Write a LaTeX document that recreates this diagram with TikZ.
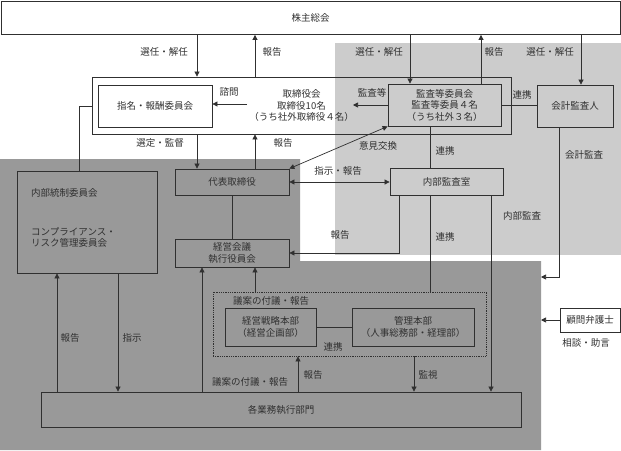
\documentclass[tikz,border=0pt]{standalone}
\usepackage{fontspec}
\setmainfont{Noto Sans CJK JP}
\usetikzlibrary{arrows.meta}
\definecolor{lgray}{HTML}{CCCCCC}
\definecolor{dgray}{HTML}{999999}
\definecolor{ink}{HTML}{303030}

\begin{document}
\begin{tikzpicture}[x=1pt, y=-1pt,
  font=\fontsize{9.5}{11.5}\selectfont,
  box/.style={draw=ink, line width=0.8pt, inner sep=0pt, align=center, text=ink},
  lbl/.style={inner sep=0pt, text=ink},
  ln/.style={draw=ink, line width=0.7pt},
  arr/.style={ln, -{Triangle[length=5pt,width=5pt]}},
  arrtwo/.style={ln, {Triangle[length=5pt,width=5pt]}-{Triangle[length=5pt,width=5pt]}}]
  \useasboundingbox (0,0) rectangle (621,450);

  % Fill the two shaded areas
  \fill[lgray] (335,43) rectangle (621,255);
  \fill[dgray] (0,159) -- (300,159) -- (300,261) -- (541,261) -- (541,450) -- (0,450) -- cycle;

  % Draw the boxes
  \node[box, minimum width=619pt, minimum height=33pt] (soukai) at (310.5,18) {株主総会};
  \node[box, minimum width=419pt, minimum height=57pt] (board) at (301.5,105.5)
    {取締役会\\取締役10名\\（うち社外取締役４名）};
  \node[box, fill=white, minimum width=114pt, minimum height=42pt] (nomi) at (155,106) {指名・報酬委員会};
  \node[box, minimum width=113pt, minimum height=42pt] (kansa) at (444.5,105)
    {監査等委員会\\監査等委員４名\\（うち社外３名）};
  \node[box, minimum width=76pt, minimum height=42pt] (kaikei) at (575,106) {会計監査人};
  \node[box, minimum width=114pt, minimum height=26pt] (daihyo) at (232,182) {代表取締役};
  \node[box, minimum width=113pt, minimum height=27pt] (naibu) at (446.5,181.5) {内部監査室};
  \node[box, minimum width=114pt, minimum height=28pt] (keiei) at (232,253) {経営会議\\執行役員会};
  \node[box, minimum width=140pt, minimum height=102pt] (tousei) at (87,222) {};
  \node[lbl, anchor=west] (tousei1) at (31,193) {内部統制委員会};
  \node[lbl, anchor=west, align=left] (tousei2) at (31,237.5) {コンプライアンス・\\リスク管理委員会};
  \node[box, densely dotted, minimum width=273pt, minimum height=64pt] (grp) at (349.5,324) {};
  \node[lbl] (grplbl) at (271,301) {議案の付議・報告};
  \node[box, minimum width=91pt, minimum height=38pt] (senryaku) at (270.5,327) {経営戦略本部\\（経営企画部）};
  \node[box, minimum width=122pt, minimum height=38pt] (kanri) at (413,327) {管理本部\\（人事総務部・経理部）};
  \node[box, minimum width=480pt, minimum height=35pt] (gyomu) at (281,409.5) {各業務執行部門};
  \node[box, fill=white, minimum width=60pt, minimum height=24pt] (komon) at (590,320) {顧問弁護士};

  % Connector columns and free ends
  \coordinate (xa) at (197,0);
  \coordinate (xb) at (255,0);
  \coordinate (xc) at (410,0);
  \coordinate (xd) at (481,0);
  \coordinate (xe) at (581,0);
  \coordinate (xf) at (79,0);
  \coordinate (xg) at (430,0);
  \coordinate (xh) at (559,0);
  \coordinate (xi) at (399,0);
  \coordinate (xj) at (491,0);
  \coordinate (xk) at (57,0);
  \coordinate (xl) at (118,0);
  \coordinate (xm) at (202,0);
  \coordinate (xn) at (298,0);
  \coordinate (xo) at (414,0);
  \coordinate (shimon) at (247,104);
  \coordinate (kanend) at (353,105);
  \coordinate (kkend) at (541,277);
  \coordinate (dkedge) at (541,0);

  % Shareholders meeting
  \draw[arr] (soukai.south -| xa) -- (board.north -| xa);
  \draw[arr] (board.north -| xb) -- (soukai.south -| xb);
  \draw[arr] (soukai.south -| xc) -- (kansa.north -| xc);
  \draw[arr] (kansa.north -| xd) -- (soukai.south -| xd);
  \draw[arr] (soukai.south -| xe) -- (kaikei.north -| xe);

  % Board of directors
  \draw[arr] (shimon) -- (nomi.east |- shimon);
  \draw[arr] (kansa.west) -- (kanend);
  \draw[ln] (kansa.east) -- (kaikei.west |- kansa.east);
  \draw[ln] (board.west |- nomi.east) -| (tousei.north -| xf);
  \draw[arr] (board.south -| xa) -- (daihyo.north -| xa);
  \draw[arr] (daihyo.north -| xb) -- (board.south -| xb);
  \draw[arrtwo] (daihyo.north east) -- (kansa.south west);
  \draw[ln] (kansa.south -| xg) -- (naibu.north -| xg);

  % Executives and audit
  \draw[arrtwo] (daihyo.east) -- (naibu.west |- daihyo.east);
  \draw[ln] (daihyo) -- (keiei);
  \draw[arr] (naibu.south -| xi) |- (keiei.east);
  \draw[ln] (naibu.south -| xg) -- (grp.north -| xg);
  \draw[arr] (naibu.south -| xj) -- (gyomu.north -| xj);
  \draw[arr] (kaikei.south -| xh) |- (kkend);
  \draw[arr] (komon.west) -- (komon.west -| dkedge);

  % Lower part
  \draw[arr] (gyomu.north -| xk) -- (tousei.south -| xk);
  \draw[arr] (tousei.south -| xl) -- (gyomu.north -| xl);
  \draw[arr] (gyomu.north -| xm) -- (keiei.south -| xm);
  \draw[arr] (grp.north -| xb) -- (keiei.south -| xb);
  \draw[arr] (gyomu.north -| xn) -- (grp.south -| xn);
  \draw[arr] (grp.south -| xo) -- (gyomu.north -| xo);
  \draw[ln] (senryaku) -- (kanri);

  % Labels
  \node[lbl] (l1) at (164,52) {選任・解任};
  \node[lbl] (l2) at (272,52) {報告};
  \node[lbl] (l3) at (379,52) {選任・解任};
  \node[lbl] (l4) at (494,52) {報告};
  \node[lbl] (l5) at (550,52) {選任・解任};
  \node[lbl] (l6) at (229,92) {諮問};
  \node[lbl] (l7) at (372,93) {監査等};
  \node[lbl] (l8) at (522,95) {連携};
  \node[lbl] (l9) at (160,143) {選定・監督};
  \node[lbl] (l10) at (283,143) {報告};
  \node[lbl] (l11) at (378,146) {意見交換};
  \node[lbl] (l12) at (445,151) {連携};
  \node[lbl] (l13) at (584,155) {会計監査};
  \node[lbl] (l14) at (338,171) {指示・報告};
  \node[lbl] (l15) at (340,235) {報告};
  \node[lbl] (l16) at (445,237) {連携};
  \node[lbl] (l17) at (522,216) {内部監査};
  \node[lbl] (l18) at (70,338) {報告};
  \node[lbl] (l19) at (132,338) {指示};
  \node[lbl] (l20) at (333,347) {連携};
  \node[lbl] (l21) at (250,382) {議案の付議・報告};
  \node[lbl] (l22) at (313,375) {報告};
  \node[lbl] (l23) at (428,375) {監視};
  \node[lbl] (l24) at (586,343) {相談・助言};
\end{tikzpicture}
\end{document}
